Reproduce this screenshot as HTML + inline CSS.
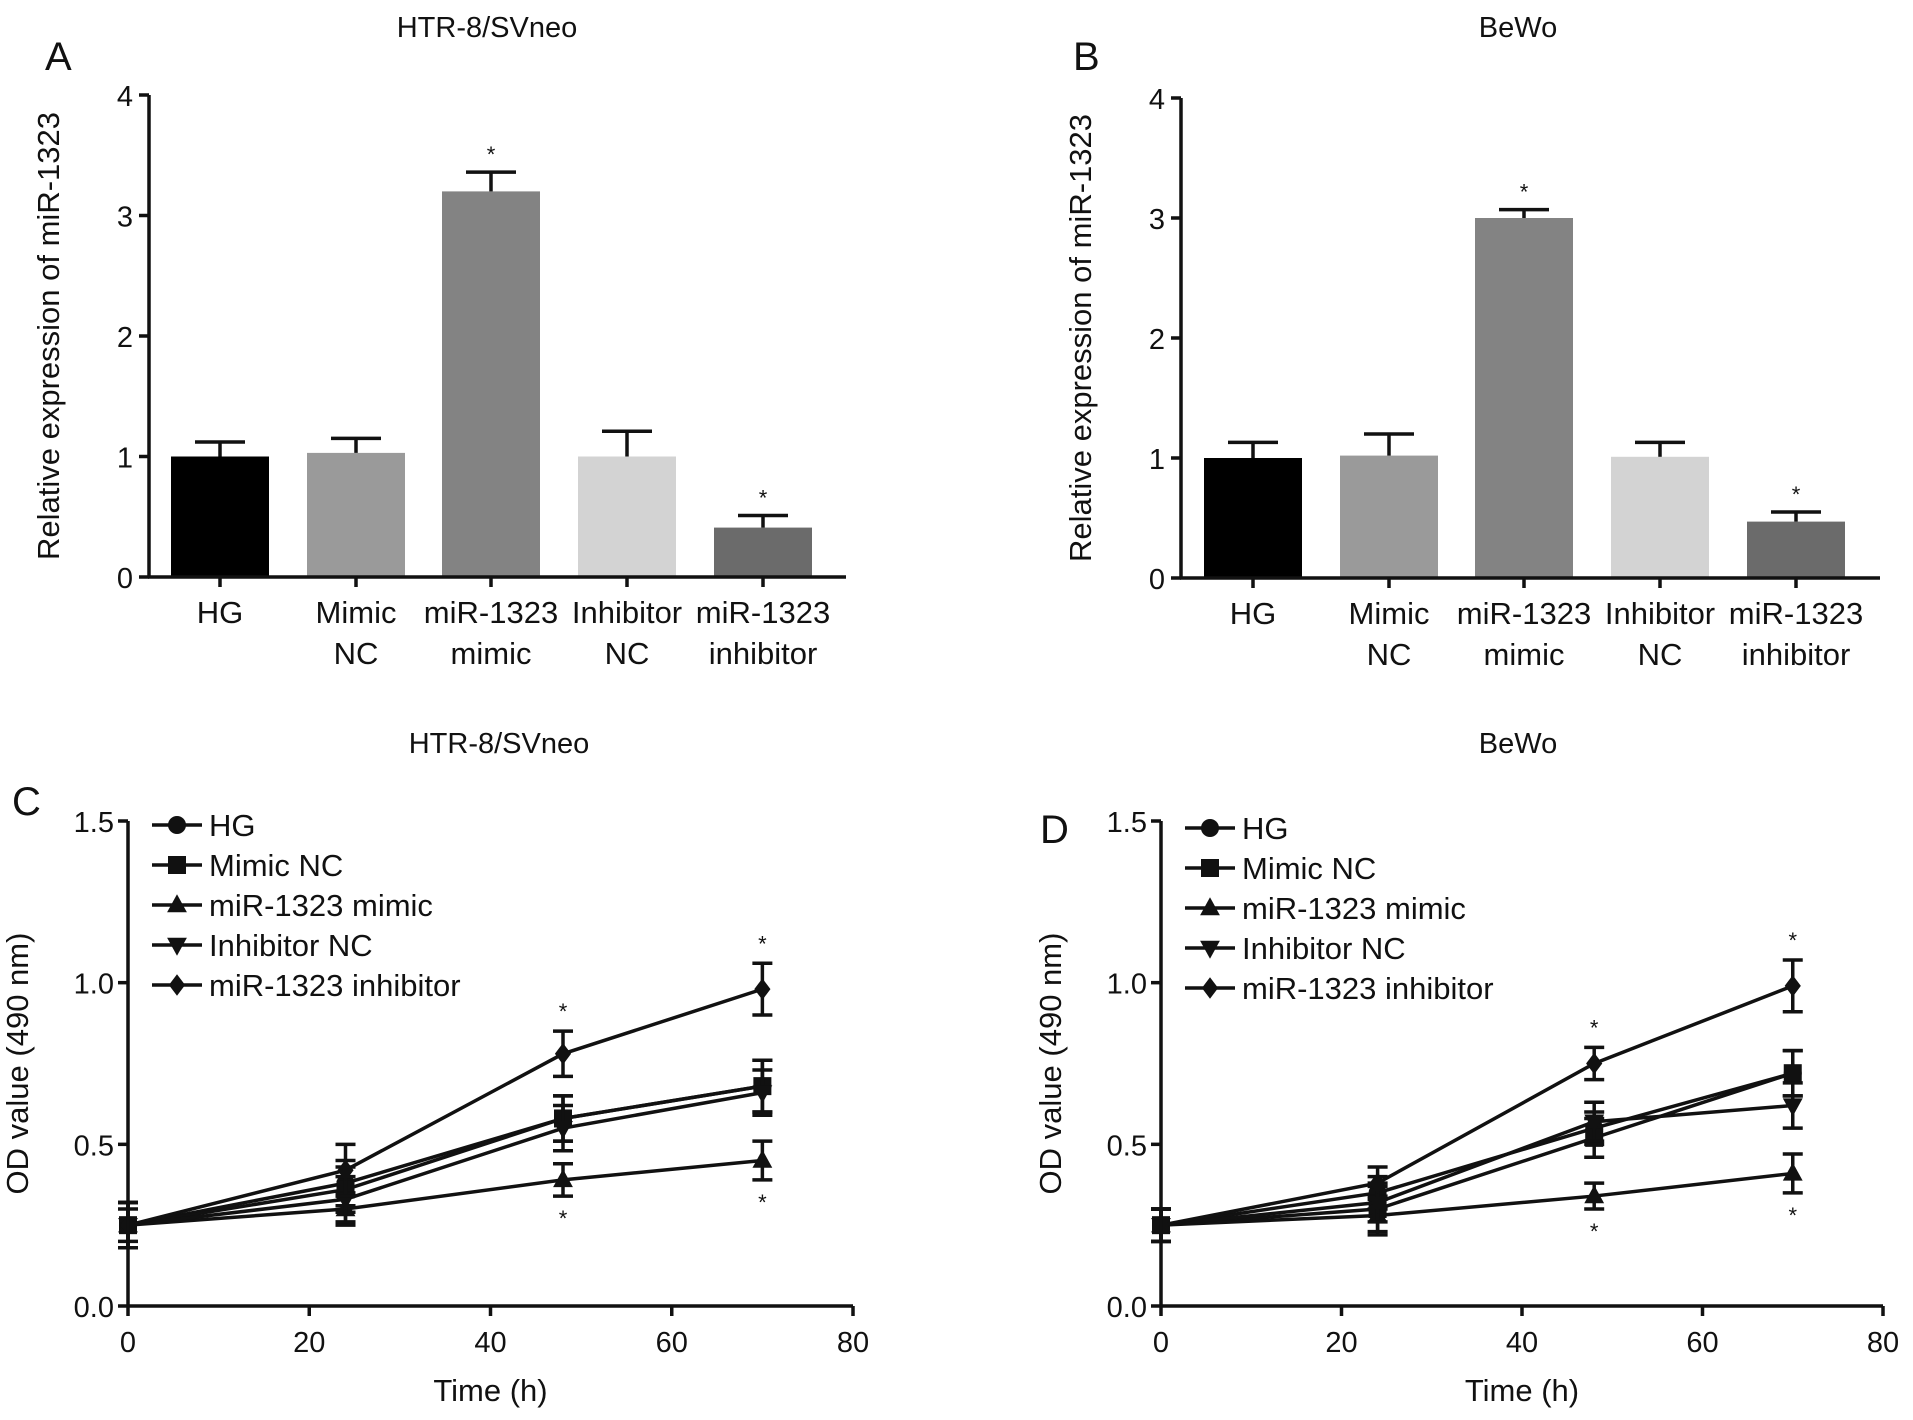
<!DOCTYPE html>
<html><head><meta charset="utf-8"><style>
body{margin:0;background:#fff}
svg{display:block;font-family:"Liberation Sans",Arial,sans-serif}
</style></head><body>
<svg id="fig" width="1913" height="1420" viewBox="0 0 1913 1420"></svg>
<script>
const barCats=[["HG"],["Mimic","NC"],["miR-1323","mimic"],["Inhibitor","NC"],["miR-1323","inhibitor"]];
const barColors=["#000","#9a9a9a","#838383","#d3d3d3","#6b6b6b"];
const barA=[1.0,1.03,3.2,1.0,0.41];
const errA=[0.12,0.12,0.16,0.21,0.10];
const starA=[false,false,true,false,true];
const barB=[1.0,1.02,3.0,1.01,0.47];
const errB=[0.13,0.18,0.07,0.12,0.08];
const starB=[false,false,true,false,true];
const barTicks=[0,1,2,3,4];
const times=[0,24,48,70];
const seriesNames=["HG","Mimic NC","miR-1323 mimic","Inhibitor NC","miR-1323 inhibitor"];
const markers=["circle","square","tri","tridown","diamond"];
const lineC=[[0.25,0.38,0.58,0.68],[0.25,0.36,0.58,0.68],[0.25,0.30,0.39,0.45],[0.25,0.33,0.55,0.66],[0.25,0.42,0.78,0.98]];
const errC=[[0.07,0.07,0.07,0.08],[0.07,0.07,0.07,0.08],[0.05,0.05,0.05,0.06],[0.07,0.07,0.07,0.07],[0.07,0.08,0.07,0.08]];
const lineD=[[0.25,0.35,0.55,0.72],[0.25,0.30,0.52,0.72],[0.25,0.28,0.34,0.41],[0.25,0.32,0.57,0.62],[0.25,0.38,0.75,0.99]];
const errD=[[0.05,0.05,0.05,0.07],[0.05,0.07,0.06,0.07],[0.05,0.06,0.04,0.06],[0.05,0.06,0.06,0.07],[0.05,0.05,0.05,0.08]];
const starsLine=[[48,"up",4],[70,"up",4],[48,"down",2],[70,"down",2]];
const lineYTicks=[0,0.5,1.0,1.5];
const lineXTicks=[0,20,40,60,80];

const svg=document.getElementById('fig');
const NS="http://www.w3.org/2000/svg";
function el(tag,attrs,parent){const e=document.createElementNS(NS,tag);for(const k in attrs)e.setAttribute(k,attrs[k]);(parent||svg).appendChild(e);return e;}
function txt(x,y,s,size,anchor,parent,extra){const t=el('text',Object.assign({x:x,y:y,'font-size':size,'text-anchor':anchor||'middle',fill:'#111'},extra||{}),parent);t.textContent=s;return t;}

function barPanel(name,x0,x1,y0,y4,centres,vals,errs,stars,title,tx,letter,lx){
  const g=el('g',{});
  
  
  const ys=v=>y0-(y0-y4)*v/4;
  const t=txt(tx,37,title,29,'middle',g);
  
  const L=txt(lx,70,letter,40,'start',g);
  
  vals.forEach((v,i)=>{
    const c=centres[i];
    const r=el('rect',{x:c-49,y:ys(v),width:98,height:y0-ys(v),fill:barColors[i]},g);
    
    
    const top=ys(v+errs[i]);
    el('line',{x1:c,x2:c,y1:ys(v),y2:top,stroke:'#111','stroke-width':3.5},g);
    el('line',{x1:c-25,x2:c+25,y1:top,y2:top,stroke:'#111','stroke-width':3.5},g);
    if(stars[i]){const s=txt(c,top-10,'*',22,'middle',g);}
    el('line',{x1:c,x2:c,y1:y0,y2:y0+10,stroke:'#111','stroke-width':3.5},g);
    barCats[i].forEach((s,j)=>txt(c,y0+46+j*41,s,31,'middle',g));
  });
  el('line',{x1:x0,x2:x0,y1:y4,y2:y0+1,stroke:'#111','stroke-width':3.5},g);
  el('line',{x1:x0-1,x2:x1,y1:y0,y2:y0,stroke:'#111','stroke-width':3.5},g);
  barTicks.forEach(v=>{el('line',{x1:x0-10,x2:x0,y1:ys(v),y2:ys(v),stroke:'#111','stroke-width':3.5},g);txt(x0-16,ys(v)+11,String(v),29,'end',g);});
  const at=txt(0,0,'Relative expression of miR-1323',31,'middle',g,{transform:`translate(${x0-90},${(y0+y4)/2}) rotate(-90)`});
  
}
barPanel('panel-a-bar-chart',149,846,577,95,[220,356,491,627,763],barA,errA,starA,'HTR-8/SVneo',487,'A',45);
barPanel('panel-b-bar-chart',1181,1880,578,98,[1253,1389,1524,1660,1796],barB,errB,starB,'BeWo',1518,'B',1073);

function marker(g,type,x,y,s){
  if(type==='circle')return el('circle',{cx:x,cy:y,r:s,fill:'#111'},g);
  if(type==='square')return el('rect',{x:x-s,y:y-s,width:2*s,height:2*s,fill:'#111'},g);
  if(type==='tri')return el('polygon',{points:`${x},${y-s*1.2} ${x-s*1.1},${y+s*0.8} ${x+s*1.1},${y+s*0.8}`,fill:'#111'},g);
  if(type==='tridown')return el('polygon',{points:`${x},${y+s*1.2} ${x-s*1.1},${y-s*0.8} ${x+s*1.1},${y-s*0.8}`,fill:'#111'},g);
  return el('polygon',{points:`${x},${y-s*1.2} ${x+s*0.9},${y} ${x},${y+s*1.2} ${x-s*0.9},${y}`,fill:'#111'},g);
}
function linePanel(name,x0,x80,y0,y15,data,errs,title,tx,letter,lx,ly,legX,legY,legStep){
  const g=el('g',{});
  
  
  const xs=t=>x0+(x80-x0)*t/80, ys=v=>y0-(y0-y15)*v/1.5;
  const t=txt(tx,753,title,29,'middle',g);
  const L=txt(lx,ly,letter,40,'start',g);
  data.forEach((ser,si)=>{
    const pts=ser.map((v,i)=>xs(times[i])+','+ys(v)).join(' ');
    const pl=el('polyline',{points:pts,fill:'none',stroke:'#111','stroke-width':3.5},g);
    
    
    ser.forEach((v,i)=>{
      const x=xs(times[i]),e=errs[si][i];
      el('line',{x1:x,x2:x,y1:ys(v-e),y2:ys(v+e),stroke:'#111','stroke-width':3.5},g);
      el('line',{x1:x-10,x2:x+10,y1:ys(v-e),y2:ys(v-e),stroke:'#111','stroke-width':3.5},g);
      el('line',{x1:x-10,x2:x+10,y1:ys(v+e),y2:ys(v+e),stroke:'#111','stroke-width':3.5},g);
      const m=marker(g,markers[si],x,ys(v),9);
      
    });
  });
  starsLine.forEach(([t,dir,si])=>{
    const i=times.indexOf(t),v=data[si][i],e=errs[si][i];
    const y=dir==='up'?ys(v+e)-12:ys(v-e)+30;
    const s=txt(xs(t),y,'*',22,'middle',g);
  });
  el('line',{x1:x0,x2:x0,y1:y15,y2:y0+1,stroke:'#111','stroke-width':3.5},g);
  el('line',{x1:x0-1,x2:x80,y1:y0,y2:y0,stroke:'#111','stroke-width':3.5},g);
  lineYTicks.forEach(v=>{el('line',{x1:x0-10,x2:x0,y1:ys(v),y2:ys(v),stroke:'#111','stroke-width':3.5},g);txt(x0-14,ys(v)+11,v.toFixed(1),29,'end',g);});
  lineXTicks.forEach(v=>{el('line',{x1:xs(v),x2:xs(v),y1:y0,y2:y0+10,stroke:'#111','stroke-width':3.5},g);txt(xs(v),y0+46,String(v),29,'middle',g);});
  const xt=txt((x0+x80)/2,y0+95,'Time (h)',31,'middle',g);
  const yt=txt(0,0,'OD value (490 nm)',31,'middle',g,{transform:`translate(${x0-100},${(y0+y15)/2}) rotate(-90)`});
  
  seriesNames.forEach((n,i)=>{
    const lg=el('g',{},g);
    
    
    const y=legY+i*legStep;
    el('line',{x1:legX,x2:legX+50,y1:y,y2:y,stroke:'#111','stroke-width':3.5},lg);
    marker(lg,markers[i],legX+25,y,9);
    txt(legX+57,y+11,n,31,'start',lg);
  });
}
linePanel('panel-c-line-chart',128,853,1306,821,lineC,errC,'HTR-8/SVneo',499,'C',12,815,152,825,40);
linePanel('panel-d-line-chart',1161,1883,1306,821,lineD,errD,'BeWo',1518,'D',1040,843,1185,828,40);
</script>
</body></html>
